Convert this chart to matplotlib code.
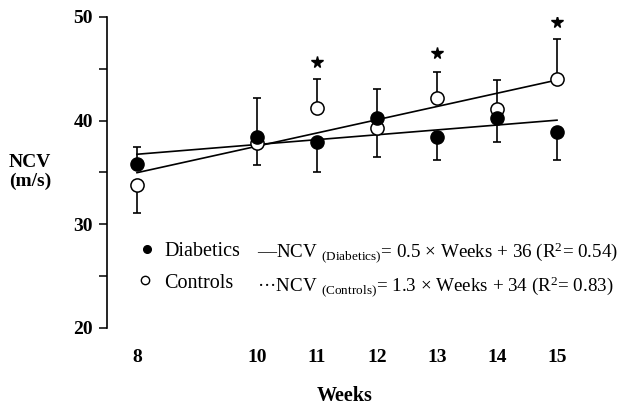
import numpy as np
import matplotlib
matplotlib.use("Agg")
import matplotlib.pyplot as plt

weeks = [8, 10, 11, 12, 13, 14, 15]
diabetics = [35.8, 38.4, 37.9, 40.3, 38.4, 40.3, 38.9]
controls = [33.75, 37.8, 41.2, 39.3, 42.2, 41.1, 44.0]
# one-sided error bars: (lower, upper)
diab_err_low = [0, 0, 2.9, 0, 2.2, 2.4, 2.7]
diab_err_up = [1.7, 3.8, 0, 2.8, 0, 0, 0]
ctrl_err_low = [2.65, 2.1, 0, 2.8, 0, 0, 0]
ctrl_err_up = [0, 0, 2.8, 0, 2.5, 2.8, 3.9]
star_weeks = [11, 13, 15]
star_y = [45.7, 46.5, 49.5]
xtick_labels = ["8", "10", "11", "12", "13", "14", "15"]
yticks = [20, 30, 40, 50]

plt.rcParams['font.family'] = ['Liberation Serif', 'DejaVu Serif']
plt.rcParams['mathtext.fontset'] = 'custom'
plt.rcParams['mathtext.rm'] = 'Liberation Serif'
plt.rcParams['mathtext.it'] = 'Liberation Serif:italic'
plt.rcParams['mathtext.bf'] = 'Liberation Serif:bold'

fig = plt.figure(figsize=(6.21, 4.12), dpi=100)
ax = fig.add_axes([107/621, 1-328/412, 510/621, 311/412])

x = np.array(weeks, dtype=float)
# regression lines
for vals in (diabetics, controls):
    m, b = np.polyfit(x, vals, 1)
    xs = np.array([weeks[0], weeks[-1]], dtype=float)
    ax.plot(xs, m*xs + b, color='black', lw=1.2, zorder=2)

ax.errorbar(x, diabetics, yerr=[diab_err_low, diab_err_up], fmt='none',
            ecolor='black', elinewidth=1.2, capsize=3, capthick=1.2, zorder=1)
ax.errorbar(x, controls, yerr=[ctrl_err_low, ctrl_err_up], fmt='none',
            ecolor='black', elinewidth=1.2, capsize=3, capthick=1.2, zorder=1)
ax.plot(x, controls, 'o', ms=9.5, mfc='white', mec='black', mew=1.1, zorder=3)
ax.plot(x, diabetics, 'o', ms=9.5, mfc='black', mec='black', zorder=4)
ax.plot(star_weeks, star_y, '*', ms=8.5, color='black', zorder=4)

ax.set_xlim(7.5, 16.0)
ax.set_ylim(20, 50)
for s in ['top', 'right', 'bottom']:
    ax.spines[s].set_visible(False)
ax.spines['left'].set_linewidth(1.2)
ax.set_yticks(yticks)
ax.set_yticks([25, 35, 45], minor=True)
ax.tick_params(axis='y', which='both', direction='out', length=6, width=1.1, pad=4)
ax.set_yticklabels([str(v) for v in yticks], fontsize=14, fontweight='bold')
ax.set_xticks(weeks)
ax.set_xticklabels(xtick_labels, fontsize=14, fontweight='bold')
ax.tick_params(axis='x', length=0, pad=15)

fig.text(345/621, 1-396/412, "Weeks", ha='center', va='center', fontsize=14.5, fontweight='bold')
fig.text(30/621, 1-172/412, "NCV\n(m/s)", ha='center', va='center', fontsize=14,
         fontweight='bold', linespacing=1.15)

# legend-like annotation
fig.lines.append(plt.Line2D([147/621], [1-249/412], marker='o', ms=5.5, color='black',
                            transform=fig.transFigure))
fig.lines.append(plt.Line2D([145/621], [1-280/412], marker='o', ms=6, mfc='white',
                            mec='black', color='black', transform=fig.transFigure))
fig.text(164/621, 1-252/412, "Diabetics", fontsize=14.5, va='center')
fig.text(164/621, 1-284/412, "Controls", fontsize=14.5, va='center')
fig.text(257/621, 1-253/412,
         r"—NCV $_{\mathrm{(Diabetics)}}$= 0.5 × Weeks + 36 (R$^{2}$= 0.54)",
         fontsize=13.7, va='center')
fig.text(257/621, 1-287/412,
         r"···NCV $_{\mathrm{(Controls)}}$= 1.3 × Weeks + 34 (R$^{2}$= 0.83)",
         fontsize=13.7, va='center')

fig.savefig("out.png", dpi=100)
